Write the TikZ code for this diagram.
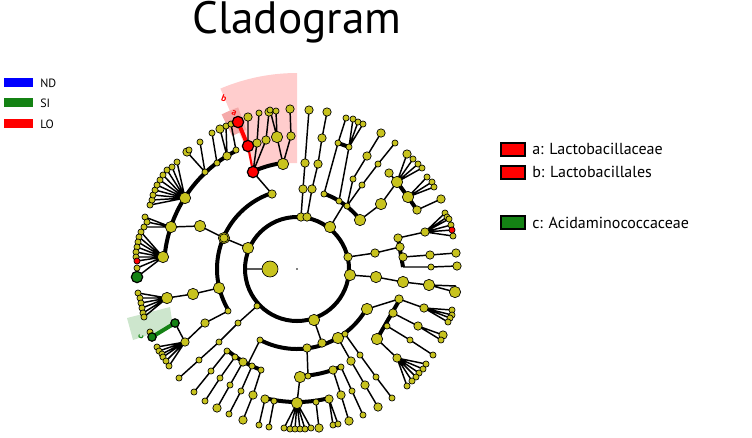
\documentclass[tikz,border=0pt]{standalone}
\usepackage{fontspec}
\setmainfont{PT Sans}
\definecolor{yel}{RGB}{200,195,30}
\definecolor{grn}{RGB}{20,130,20}
\definecolor{pinkA}{RGB}{255,205,205}
\definecolor{pinkB}{RGB}{245,170,170}
\definecolor{grnbg}{RGB}{205,230,205}
\newcommand\arcR[4][]{\draw[thk,#1] plot[domain=#2:#3,samples=40,smooth] ({297+#4*cos(\x)},{269+#4*sin(\x)});}
\begin{document}
\begin{tikzpicture}[x=0.75pt,y=-0.75pt,
  edge/.style={line width=1.1pt},
  thk/.style={line width=3pt},
  dotS/.style={circle,draw,line width=0.5pt,fill=yel,inner sep=0pt,minimum size=4.6pt},
  dotM/.style={dotS,minimum size=6.3pt},
  dotL/.style={dotS,minimum size=8.5pt},
  lbl/.style={font=\fontsize{12}{14}\selectfont,anchor=west,inner sep=0pt}]
\useasboundingbox (0,0) rectangle (752,437);
\coordinate (C) at (297,269);
% highlights
\fill[pinkA] plot[domain=-113:-90,samples=20] ({297+106*cos(\x)},{269+106*sin(\x)}) -- plot[domain=-90:-113,samples=20] ({297+196*cos(\x)},{269+196*sin(\x)}) -- cycle;
\fill[pinkB] plot[domain=-116:-110,samples=10] ({297+148*cos(\x)},{269+148*sin(\x)}) -- plot[domain=-110:-116,samples=10] ({297+172*cos(\x)},{269+172*sin(\x)}) -- cycle;
\fill[grnbg] (127,318) -- (170,307) -- (173,327) -- (133,340) -- cycle;
\node[text=red,font=\fontsize{7}{7}\selectfont\bfseries,rotate=-20] (lb) at (224,98) {b};
\node[text=red,font=\fontsize{7}{7}\selectfont\bfseries,rotate=-20] (la) at (234,113) {a};
\node[text=grn,font=\fontsize{7}{7}\selectfont\bfseries,rotate=75] (lc) at (141,337) {c};
% rings
\draw[thk] (C) circle[radius=52];
\arcR{-211}{-108}{80}
\arcR{30}{117}{80}
\arcR{-70}{-38}{80}
\arcR{185}{243}{133}
\arcR{-114}{-98}{107}
\arcR{66}{88}{107}
\arcR{110}{130}{107}
\arcR{76}{104}{133}
\draw[thk] (398,238) -- (403,267);
\draw[thk] (400,299) -- (377,339);
\draw[thk] (397,182) -- (408,197) -- (417,210);
\draw[thk] (338,143) -- (349,147);
\draw[thk,red] (248,146) -- (238,122);
\draw[thk,grn] (175,323) -- (152,337);
% edges
\draw[edge] (301,217)--(303,189)--(305,163)--(307,136)--(309,110)
 (307,217)--(312,189)--(318,164)--(322,138)--(327,112)
 (330,227)--(344,204) (324,194)--(338,143)--(346,118) (339,201)--(349,147)
 (349,147)--(353,119) (349,147)--(358,122) (349,147)--(363,124)
 (347,206)--(353,179)--(367,156)--(381,133) (347,206)--(362,185)--(378,164)--(395,143)
 (360,220)--(381,204)--(397,182) (389,173)--(397,182)
 (397,182)--(407,154) (397,182)--(413,159) (397,182)--(418,164) (397,182)--(422,168)
 (408,197)--(427,177) (408,197)--(432,182) (408,197)--(434,187) (417,210)--(441,199)
 (348,257)--(375,253)--(400,247) (398,238)--(425,232)
 (425,232)--(445,213) (425,232)--(447,217) (425,232)--(449,219) (425,232)--(451,225) (425,232)--(452,230) (425,232)--(453,236)
 (403,257)--(430,255)--(456,253) (403,267)--(431,267)--(457,266)
 (350,275)--(376,277)--(403,282)--(429,285)--(455,292) (429,285)--(456,286)
 (314,320)--(322,343) (367,309)--(399,299)--(424,308)
 (424,308)--(452,310) (424,308)--(452,315) (424,308)--(450,318) (424,308)--(448,322)
 (393,313)--(418,326)--(443,335) (418,326)--(441,340) (387,326)--(410,340)--(433,355)
 (377,339)--(397,358)
 (397,358)--(426,364) (397,358)--(423,369) (397,358)--(419,373) (397,358)--(416,377) (397,358)--(412,381) (397,358)--(407,386)
 (338,338)--(351,361)--(365,385)--(378,407) (345,334)--(360,355)--(376,377)--(392,398)
 (307,348)--(308,376) (333,370)--(341,395)--(349,421) (341,367)--(352,391)--(363,415)
 (300,377)--(297,403)
 (297,403)--(284,428) (297,403)--(290,429) (297,403)--(295,429) (297,403)--(300,429) (297,403)--(305,429) (297,403)--(311,428)
 (316,402)--(319,428) (329,399)--(333,425) (329,399)--(338,424)
 (265,399)--(259,425) (274,401)--(269,427)
 (260,340)--(248,364)
 (227,351)--(211,371)--(194,392) (235,357)--(220,378)--(205,401) (243,362)--(230,385)--(217,408)
 (252,366)--(241,391)--(229,414) (261,370)--(253,395)--(243,420)
 (257,306)--(238,323)--(219,342)--(199,360)--(179,378)
 (219,288)--(193,294)--(167,298)
 (167,298)--(138,293) (167,298)--(140,298) (167,298)--(141,303) (167,298)--(142,308) (167,298)--(143,313) (167,298)--(144,317)
 (228,311)--(205,323)--(185,342)
 (185,342)--(157,347) (185,342)--(159,351) (185,342)--(162,354) (185,342)--(163,357) (185,342)--(166,361) (185,342)--(169,366) (185,342)--(175,323)
 (248,248)--(224,238)--(200,226)--(171,227)
 (171,227)--(145,217) (171,227)--(147,222) (171,227)--(144,227)
 (163,257)--(141,232) (163,257)--(139,237) (163,257)--(138,242) (163,257)--(137,247) (163,257)--(136,252) (163,257)--(136,257) (163,257)--(137,261) (163,257)--(137,268) (163,257)--(137,277)
 (185,198)--(150,205) (185,198)--(152,200) (185,198)--(153,195) (185,198)--(155,190) (185,198)--(157,185) (185,198)--(160,180) (185,198)--(163,175) (185,198)--(167,170) (185,198)--(172,167) (185,198)--(177,162)
 (205,172)--(187,152) (205,172)--(200,142) (217,163)--(212,133) (227,156)--(220,129) (227,156)--(226,126) (236,150)--(231,124)
 (253,172)--(257,143)--(259,113) (253,172)--(266,140)--(269,112) (248,146)--(248,117)
 (283,164)--(277,137)--(270,110) (277,137)--(276,111) (283,164)--(291,136)--(290,109)
 (246,269)--(270,269) (272,194)--(253,172);
\draw[line width=1.6pt,red] (253,172)--(248,146);
% nodes
\foreach \p in {(330,227),(360,220),(381,204),(397,182),(408,197),(350,275),(376,277),(403,282),(429,285),(455,292),(314,320),(367,309),(377,339),(338,338),(300,377),(297,403),(219,288),(193,294),(167,298),(224,238),(200,226),(171,227),(163,257),(185,198),(248,248),(283,164),(277,137)}
  \node[dotL] at \p {};
\foreach \p in {(301,217),(307,217),(303,189),(312,189),(305,163),(318,164),(322,138),(309,110),(327,112),(367,156),(381,133),(389,173),(407,154),(417,210),(441,199),(348,257),(375,253),(400,247),(398,238),(425,232),(403,257),(430,255),(456,253),(457,266),(399,299),(424,308),(393,313),(418,326),(443,335),(397,358),(351,361),(365,385),(378,407),(341,395),(349,421),(333,370),(329,399),(319,428),(265,399),(243,362),(217,408),(253,395),(243,420),(205,323),(185,342),(187,152),(220,129),(257,143),(266,140),(248,117),(269,112),(290,109),(291,136),(227,156),(307,348),(322,343),(272,194),(224,238)}
  \node[dotM] at \p {};
\foreach \p in {(324,194),(339,201),(347,206),(338,143),(346,118),(349,147),(353,119),(358,122),(363,124),(353,179),(362,185),(378,164),(395,143),(413,159),(418,164),(422,168),(427,177),(432,182),(434,187),(445,213),(447,217),(449,219),(451,225),(453,236),(431,267),(452,310),(452,315),(450,318),(448,322),(441,340),(387,326),(410,340),(433,355),(426,364),(423,369),(419,373),(416,377),(412,381),(407,386),(345,334),(360,355),(376,377),(392,398),(352,391),(363,415),(308,376),(341,367),(284,428),(290,429),(295,429),(300,429),(305,429),(311,428),(316,402),(333,425),(338,424),(259,425),(274,401),(269,427),(260,340),(227,351),(211,371),(194,392),(235,357),(220,378),(205,401),(230,385),(252,366),(241,391),(229,414),(261,370),(257,306),(238,323),(219,342),(199,360),(179,378),(228,311),(138,293),(140,298),(141,303),(142,308),(143,313),(144,317),(157,347),(159,351),(162,354),(163,357),(166,361),(169,366),(150,332),(145,217),(147,222),(144,227),(141,232),(139,237),(138,242),(137,247),(136,252),(136,257),(137,268),(150,205),(152,200),(153,195),(155,190),(157,185),(160,180),(163,175),(167,170),(172,167),(177,162),(205,172),(200,142),(217,163),(212,133),(226,126),(236,150),(231,124),(259,113),(270,110),(276,111),(189,150)}
  \node[dotS] at \p {};
\node[dotS,fill=red] at (452,230) {};
\node[dotS,fill=red] at (137,261) {};
\node[dotL,fill=red,line width=0.9pt] at (253,172) {};
\node[dotL,fill=red,line width=0.9pt] at (248,146) {};
\node[dotL,fill=red,line width=0.9pt] at (238,122) {};
\node[dotM,fill=grn,line width=0.9pt] at (175,323) {};
\node[dotM,fill=grn,line width=0.9pt] at (152,337) {};
\node[dotL,fill=grn,line width=0.9pt] at (137,277) {};
\node[dotL,minimum size=12pt] (ctr) at (270,269) {};
\fill (C) circle[radius=0.8];
% title
\node[font=\fontsize{34}{36}\selectfont] (title) at (297,22) {Cladogram};
% left legend
\fill[blue] (4,78) rectangle (33,87);
\fill[grn] (4,98) rectangle (33,107);
\fill[red] (4,119) rectangle (33,128);
\node[lbl,font=\fontsize{9}{10}\selectfont] (nd) at (40,83) {ND};
\node[lbl,font=\fontsize{9}{10}\selectfont] (si) at (40,103) {SI};
\node[lbl,font=\fontsize{9}{10}\selectfont] (lo) at (40,124) {LO};
% right legend
\draw[fill=red,line width=1.5pt] (501,143) rectangle (525,156);
\draw[fill=red,line width=1.5pt] (501,166) rectangle (525,179);
\draw[fill=grn,line width=1.5pt] (501,216) rectangle (525,229);
\node[lbl] (ka) at (532,149) {a: Lactobacillaceae};
\node[lbl] (kb) at (532,172) {b: Lactobacillales};
\node[lbl] (kc) at (532,223) {c: Acidaminococcaceae};
\end{tikzpicture}
\end{document}
